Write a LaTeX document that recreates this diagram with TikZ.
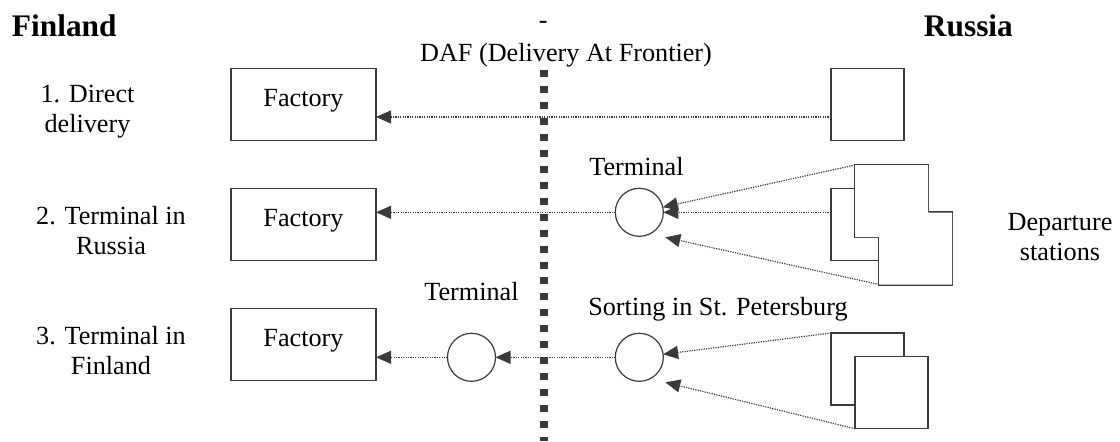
\documentclass[tikz,border=0pt]{standalone}
\usepackage{fontspec}
\setmainfont{Liberation Serif}
\usetikzlibrary{arrows.meta,positioning}
\definecolor{linegray}{HTML}{3A3A3A}

\begin{document}
\begin{tikzpicture}[x=0.5pt,y=-0.5pt,node distance=60pt,on grid,
    every node/.style={font=\fontsize{13.1}{15}\selectfont},
    factory/.style={draw=linegray,line width=0.6pt,minimum width=72.5pt,minimum height=36pt,
        inner sep=0pt,outer sep=0pt,text height=9pt,text depth=7.3pt},
    station/.style={draw=linegray,fill=white,line width=0.6pt,minimum width=36.5pt,
        minimum height=36pt,inner sep=0pt,outer sep=0pt},
    terminal/.style={circle,draw=linegray,line width=0.6pt,minimum size=24pt,inner sep=0pt,outer sep=0pt},
    flow/.style={color=linegray,line width=0.6pt,dash pattern=on 0.6pt off 0.6pt,
        -{Triangle[length=7.5pt,width=6.5pt]}},
    country/.style={font=\fontsize{15.7}{18}\selectfont\bfseries,anchor=base west,inner sep=0pt},
    case/.style={align=center}]
\useasboundingbox (0,0) rectangle (1120,441);

% headings
\node[country] (fin) at (11.5,36.7) {Finland};
\node[country] (rus) at (923.5,36.7) {Russia};
\node (dash) at (543.3,25) {-};
\node[anchor=base] (daf) at (566,61) {DAF (Delivery At Frontier)};

% the three cases
\node[case] (case1) at (87.5,112) {1. Direct\\delivery};
\node[case] (case2) at (111,230.5) {2. Terminal in\\Russia};
\node[case] (case3) at (111,351) {3. Terminal in\\Finland};

% factories in Finland
\node[factory] (fac1) at (303.5,104.5) {Factory};
\node[factory] (fac2) [below=of fac1] {Factory};
\node[factory] (fac3) [below=of fac2] {Factory};

% terminals
\node[terminal] (ter2) at (639.3,212.3) {};
\node[terminal] (ter3) at (639.3,357.3) {};
\node[terminal] (terfi) at (471.5,357.3) {};
\node[anchor=base] (ter2lbl) at (636.5,175) {Terminal};
\node[anchor=base] (terfilbl) at (471.5,300) {Terminal};
\node[anchor=base] (ter3lbl) at (718,315) {Sorting in St. Petersburg};

% departure stations in Russia
\node[station] (sq1) at (867.5,104.5) {};
\node[station] (dep2a) at (867.5,224.5) {};
\node[station,line width=1.2pt] (dep2b) at (891.5,201) {};
\node[station,line width=1.2pt] (dep2c) at (915.5,248.5) {};
\fill[white] (dep2b.south west) rectangle (dep2b.north east)
             (dep2c.south west) rectangle (dep2c.north east);
\node[station] (dep3d) at (867.5,369) {};
\node[station] (dep3e) at (891.5,392.7) {};
\node[case] (deplbl) at (1060,236.7) {Departure\\stations};

\coordinate (r1) at (0,117);
\coordinate (ter2low) at ([shift={(26,25)}]ter2.center);
\coordinate (ter3low) at ([shift={(26,25)}]ter3.center);

\path[flow]
    (sq1.west |- r1) edge (fac1.east |- r1)
    (dep2a.west |- ter2) edge (ter2)
    (dep2b.north west) edge (ter2)
    (dep2c.south west) edge (ter2low)
    (ter2) edge (fac2.east |- ter2)
    (dep3d.north west) edge (ter3)
    (dep3e.south west) edge (ter3low)
    (ter3) edge (terfi)
    (terfi) edge (fac3.east |- terfi);

% frontier
\coordinate (daftop) at (544,70);
\coordinate (dafbot) at (544,441);
\draw[linegray,line width=3.6pt,dash pattern=on 3.5pt off 4.48pt] (daftop) -- (dafbot);
\end{tikzpicture}
\end{document}
